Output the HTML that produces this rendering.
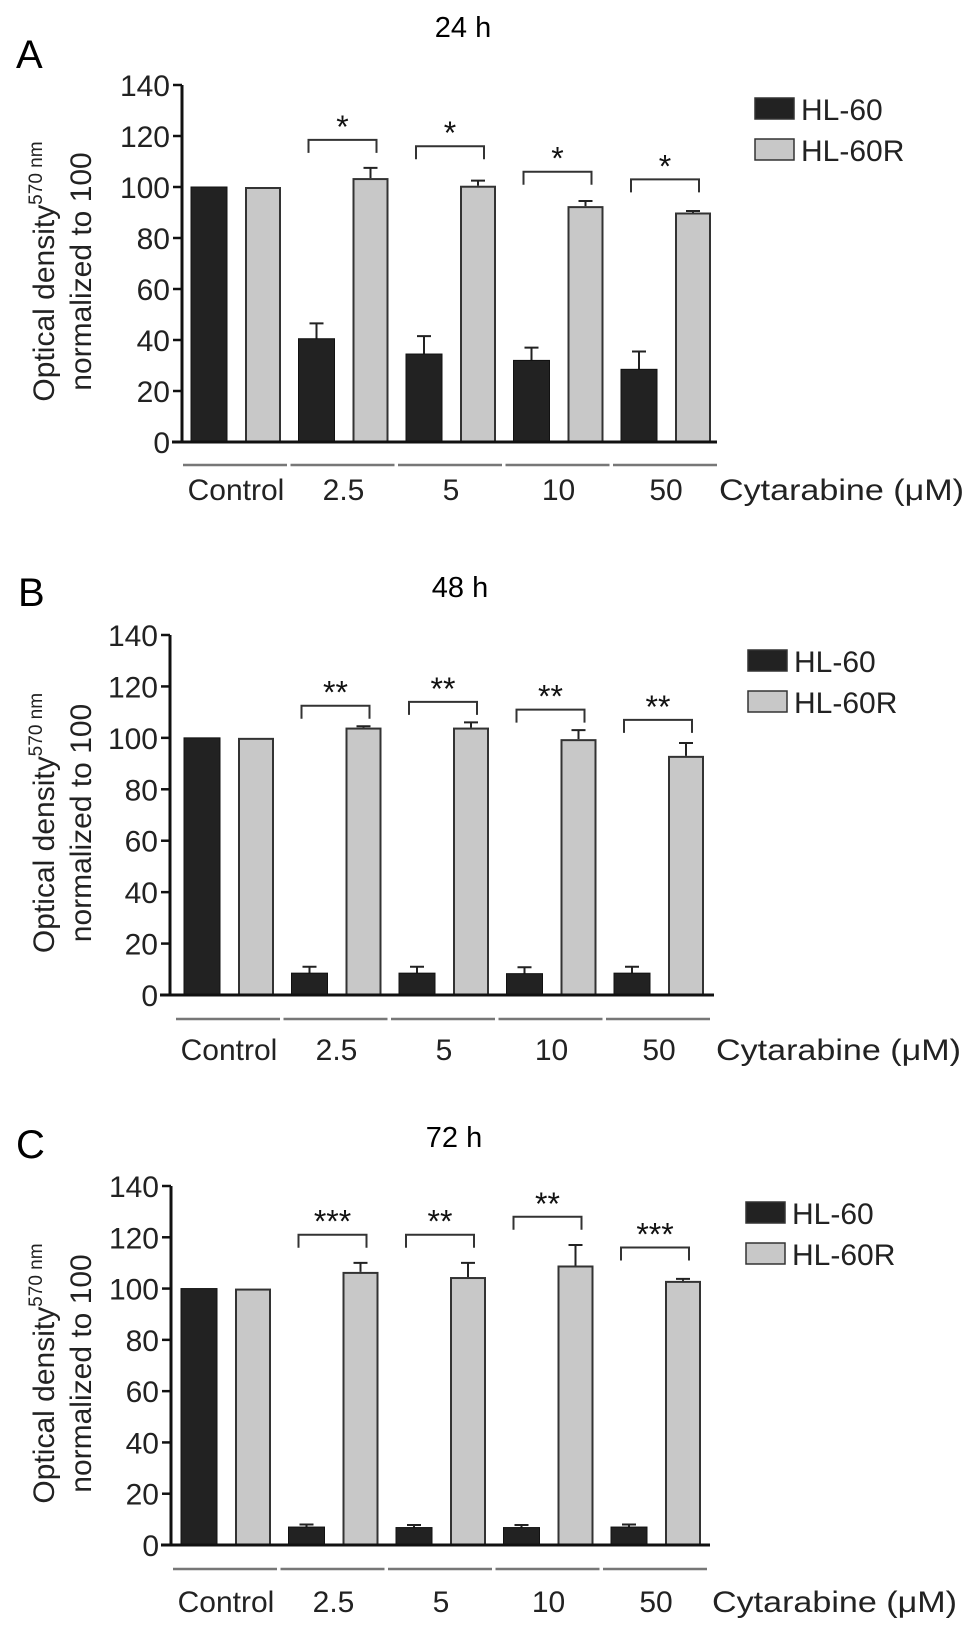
<!DOCTYPE html>
<html><head><meta charset="utf-8"><style>
html,body{margin:0;padding:0;background:#fff;}
svg{display:block;font-family:"Liberation Sans",Arial,sans-serif;}
</style></head><body>
<svg id="fig" width="969" height="1633" viewBox="0 0 969 1633" xmlns="http://www.w3.org/2000/svg"></svg>
<script>
const categories = ["Control","2.5","5","10","50"];
const yTicks = [0,20,40,60,80,100,120,140];
const seriesNames = ["HL-60","HL-60R"];
const panelLabels = ["A","B","C"];
const panelTitles = ["24 h","48 h","72 h"];
// Panel A (24 h)
const aDark = [100,40.5,34.5,32,28.5];
const aDarkErr = [0,6,7,5,7];
const aLight = [100,103.5,100.5,92.5,90];
const aLightErr = [0,4,2,2,0.6];
const aBracket = [null,118.5,116,106,103];
const aStars = ["","*","*","*","*"];
// Panel B (48 h)
const bDark = [100,8.5,8.5,8.3,8.5];
const bDarkErr = [0,2.5,2.5,2.5,2.5];
const bLight = [100,104,104,99.5,93];
const bLightErr = [0,0.5,2,3.5,5];
const bBracket = [null,112.5,114,111,107];
const bStars = ["","**","**","**","**"];
// Panel C (72 h)
const cDark = [100,7,6.8,6.8,7];
const cDarkErr = [0,1,1,1,1];
const cLight = [100,106.5,104.5,109,103];
const cLightErr = [0,3.5,5.5,8,0.8];
const cBracket = [null,121,121,128,116];
const cStars = ["","***","**","**","***"];

const NS="http://www.w3.org/2000/svg";
const svg=document.getElementById('fig');
function mk(tag,attrs,parent){const e=document.createElementNS(NS,tag);for(const k in attrs)e.setAttribute(k,attrs[k]);(parent||svg).appendChild(e);return e;}

const layouts=[
 {top:85,bottom:442,axisX:182,axisEnd:717,firstBar:191,labelY:500,lineY:465,titleX:463,titleY:37,letterX:16,letterY:68,legX:755,legY:98},
 {top:635,bottom:995,axisX:170,axisEnd:714,firstBar:184,labelY:1060,lineY:1019,titleX:460,titleY:597,letterX:18,letterY:606,legX:748,legY:650},
 {top:1186,bottom:1545,axisX:171,axisEnd:710,firstBar:181,labelY:1612,lineY:1569,titleX:454,titleY:1147,letterX:16,letterY:1158,legX:746,legY:1202}
];
const panelData=[
 [aDark,aDarkErr,aLight,aLightErr,aBracket,aStars],
 [bDark,bDarkErr,bLight,bLightErr,bBracket,bStars],
 [cDark,cDarkErr,cLight,cLightErr,cBracket,cStars]
];
const groupStep=107.5, barW=36, innerOff=54;

layouts.forEach((L,p)=>{
 const [dark,darkErr,light,lightErr,br,stars]=panelData[p];
 const g=mk('g',{});
 
 
 const y=v=>L.bottom-(v/140)*(L.bottom-L.top);
 const gx=i=>L.firstBar+i*groupStep;

 let t=mk('text',{x:L.letterX,y:L.letterY,'font-size':40},g);t.textContent=panelLabels[p];
 
 t=mk('text',{x:L.titleX,y:L.titleY,'font-size':29,'text-anchor':'middle'},g);t.textContent=panelTitles[p];
 

 const cy=(L.top+L.bottom)/2+8;
 const yt=mk('text',{transform:`translate(54,${cy}) rotate(-90)`,'font-size':30,'text-anchor':'middle',fill:'#222'},g);
 
 const ts1=mk('tspan',{},yt);ts1.textContent='Optical density';
 const ts2=mk('tspan',{'font-size':19,dy:-12},yt);ts2.textContent='570 nm';
 const yt2=mk('text',{transform:`translate(91,${cy}) rotate(-90)`,'font-size':30,'text-anchor':'middle',fill:'#222'},g);
 yt2.textContent='normalized to 100';
 

 let a=mk('line',{x1:L.axisX,y1:L.top,x2:L.axisX,y2:L.bottom,stroke:'#111','stroke-width':3},g);
 
 yTicks.forEach(v=>{
  const tk=mk('line',{x1:L.axisX-9,y1:y(v),x2:L.axisX,y2:y(v),stroke:'#111','stroke-width':2.5},g);
  
  const tl=mk('text',{x:L.axisX-12,y:y(v)+11,'font-size':30,'text-anchor':'end',fill:'#222'},g);tl.textContent=v;
  
 });

 categories.forEach((c,i)=>{
  const x0=gx(i), x1=gx(i)+innerOff;
  if(darkErr[i]>0){
   const e=mk('path',{d:`M${x0+barW/2} ${y(dark[i])} V${y(dark[i]+darkErr[i])} M${x0+barW/2-7} ${y(dark[i]+darkErr[i])} H${x0+barW/2+7}`,stroke:'#222','stroke-width':2,fill:'none'},g);
   
  }
  if(lightErr[i]>0){
   const e=mk('path',{d:`M${x1+barW/2} ${y(light[i])} V${y(light[i]+lightErr[i])} M${x1+barW/2-7} ${y(light[i]+lightErr[i])} H${x1+barW/2+7}`,stroke:'#222','stroke-width':2,fill:'none'},g);
   
  }
  const b1=mk('rect',{x:x0,y:y(dark[i]),width:barW,height:L.bottom-y(dark[i]),fill:'#222',stroke:'#111','stroke-width':1},g);
  
  const b2=mk('rect',{x:x1+1,y:y(light[i])+1,width:barW-2,height:L.bottom-y(light[i])-1,fill:'#c8c8c8',stroke:'#333','stroke-width':2},g);
  
  if(br[i]!==null){
   const by=y(br[i]);
   const bl=mk('path',{d:`M${x0+10} ${by+13} V${by} H${x1+24} V${by+13}`,stroke:'#333','stroke-width':2,fill:'none'},g);
   
   const st=mk('text',{x:(x0+10+x1+24)/2,y:by-2,'font-size':32,'text-anchor':'middle',fill:'#111'},g);st.textContent=stars[i];
   
  }
  const ul=mk('line',{x1:gx(i)-8,y1:L.lineY,x2:gx(i)+innerOff+barW+6,y2:L.lineY,stroke:'#777','stroke-width':2.5},g);
  
  const cl=mk('text',{x:(x0+x1+barW)/2,y:L.labelY,'font-size':30,'text-anchor':'middle',fill:'#222'},g);cl.textContent=c;
  
 });
 a=mk('line',{x1:L.axisX-10,y1:L.bottom,x2:L.axisEnd,y2:L.bottom,stroke:'#111','stroke-width':3},g);
 
 const xt=mk('text',{x:L.axisEnd+2,y:L.labelY,'font-size':30,fill:'#222',textLength:245,lengthAdjust:'spacingAndGlyphs'},g);xt.textContent='Cytarabine (\u03bcM)';
 

 seriesNames.forEach((s,k)=>{
  const ly=L.legY+k*41;
  const sq=mk('rect',{x:L.legX,y:ly,width:39,height:21,fill:k?'#c8c8c8':'#222',stroke:'#333','stroke-width':1.5},g);
  
  const lt=mk('text',{x:L.legX+46,y:ly+22,'font-size':30,fill:'#222'},g);lt.textContent=s;
  
 });
});
</script>
</body></html>
